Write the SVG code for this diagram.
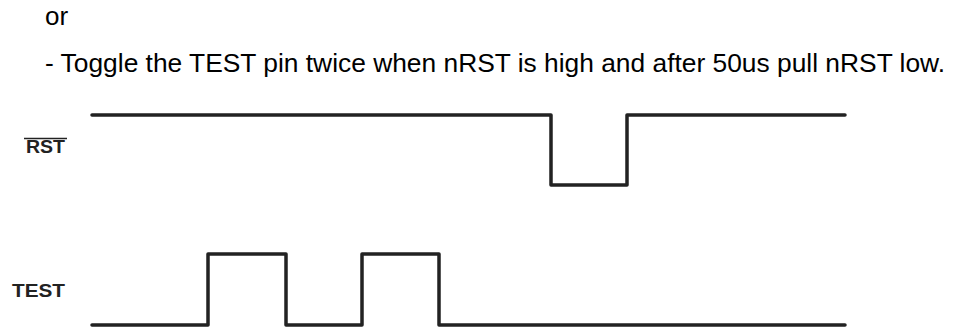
<svg xmlns="http://www.w3.org/2000/svg" width="972" height="329" viewBox="0 0 972 329">
<style>
.t{font-family:"Liberation Sans",Arial,sans-serif;font-size:26px;fill:#000}
.l{font-family:"Liberation Sans",Arial,sans-serif;font-size:19px;font-weight:bold;fill:#222}
.w{fill:none;stroke:#222;stroke-width:3.5;stroke-linejoin:round;stroke-linecap:round}
</style>
<rect width="972" height="329" fill="#fff"/>
<g id="text">
<text class="t" x="45" y="25">or</text>
<text class="t" x="45" y="72" textLength="900" lengthAdjust="spacingAndGlyphs">- Toggle the TEST pin twice when nRST is high and after 50us pull nRST low.</text>
</g>
<g id="rst">
<text class="l" x="26" y="153" textLength="39" lengthAdjust="spacingAndGlyphs">RST</text>
<line x1="24" y1="138.5" x2="67" y2="138.5" stroke="#222" stroke-width="1.5"/>
</g>
<g id="test">
<text class="l" x="12" y="297" textLength="53" lengthAdjust="spacingAndGlyphs">TEST</text>
</g>
<g id="waveforms">
<polyline class="w" points="92,115 551,115 551,185 627,185 627,115 845,115"/>
<polyline class="w" points="92,325 208,325 208,254 286,254 286,325 362,325 362,254 439,254 439,325 845,325"/>
</g>
</svg>
